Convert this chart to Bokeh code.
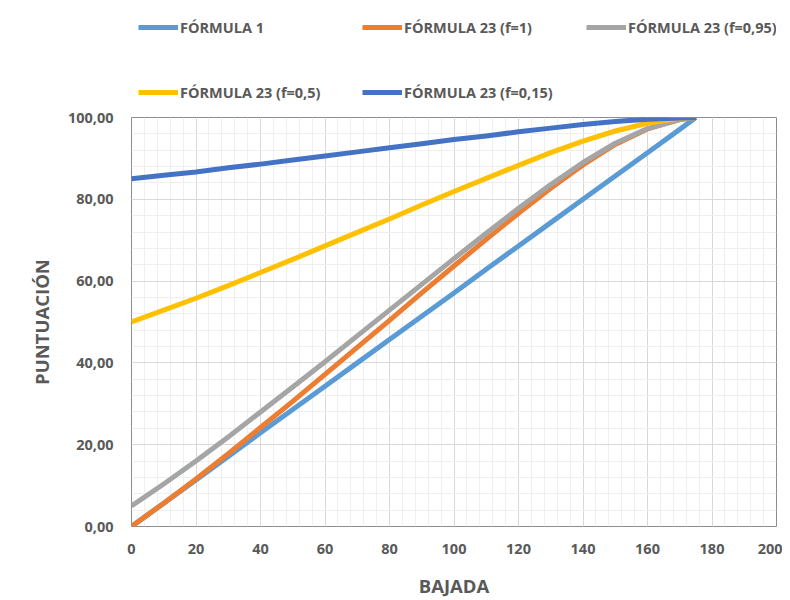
from bokeh.plotting import figure
from bokeh.layouts import column
from bokeh.models import Legend, LegendItem, ColumnDataSource, FixedTicker
from bokeh.embed import file_html
from bokeh.resources import INLINE

# ---- data ----
bajada = [0, 10, 20, 30, 40, 50, 60, 70, 80, 90, 100, 110, 120, 130, 140, 150, 160, 170, 175]
formula_1 = [0.0, 5.7, 11.4, 17.1, 22.9, 28.6, 34.3, 40.0, 45.7, 51.4, 57.1, 62.9, 68.6, 74.3, 80.0, 85.7, 91.4, 97.1, 100.0]
f23_f1 = [0.0, 5.7, 11.6, 17.8, 24.2, 30.6, 37.2, 43.8, 50.4, 57.1, 63.7, 70.2, 76.6, 82.7, 88.4, 93.4, 97.2, 99.5, 100.0]
f23_f095 = [5.0, 10.4, 16.0, 21.9, 28.0, 34.1, 40.3, 46.6, 52.9, 59.2, 65.5, 71.7, 77.8, 83.6, 89.0, 93.7, 97.3, 99.5, 100.0]
f23_f05 = [50.0, 52.9, 55.8, 58.9, 62.1, 65.3, 68.6, 71.9, 75.2, 78.6, 81.9, 85.1, 88.3, 91.4, 94.2, 96.7, 98.6, 99.8, 100.0]
f23_f015 = [85.0, 85.9, 86.7, 87.7, 88.6, 89.6, 90.6, 91.6, 92.6, 93.6, 94.6, 95.5, 96.5, 97.4, 98.3, 99.0, 99.6, 99.9, 100.0]

series_names = ["FÓRMULA 1", "FÓRMULA 23 (f=1)", "FÓRMULA 23 (f=0,95)",
                "FÓRMULA 23 (f=0,5)", "FÓRMULA 23 (f=0,15)"]
series_values = [formula_1, f23_f1, f23_f095, f23_f05, f23_f015]
series_colors = ["#5B9BD5", "#ED7D31", "#A5A5A5", "#FFC000", "#4472C4"]

x_ticks = [0, 20, 40, 60, 80, 100, 120, 140, 160, 180, 200]
y_ticks = [0, 20, 40, 60, 80, 100]
y_tick_labels = ["0,00", "20,00", "40,00", "60,00", "80,00", "100,00"]

TEXT = "#595959"
FONT = "Open Sans"
LINE_W = 5

src = ColumnDataSource(dict(x=bajada, **{f"s{i}": v for i, v in enumerate(series_values)}))

# ---- main chart ----
p = figure(width=782, height=493, output_backend="svg", toolbar_location=None,
           x_range=(0, 200), y_range=(0, 100),
           min_border_left=131, min_border_right=6, min_border_top=10, min_border_bottom=74)

for i, col in enumerate(series_colors):
    p.line("x", f"s{i}", source=src, line_color=col, line_width=LINE_W, line_join="round")

p.outline_line_color = "#8C8C8C"
p.outline_line_width = 1

p.xaxis.ticker = FixedTicker(ticks=x_ticks, minor_ticks=list(range(0, 201, 4)))
p.yaxis.ticker = FixedTicker(ticks=y_ticks, minor_ticks=list(range(0, 101, 4)))
p.xgrid.ticker = p.xaxis[0].ticker
p.ygrid.ticker = p.yaxis[0].ticker
p.yaxis.major_label_overrides = {t: l for t, l in zip(y_ticks, y_tick_labels)}

for ax in (p.xaxis[0], p.yaxis[0]):
    ax.axis_line_color = None
    ax.major_tick_line_color = None
    ax.minor_tick_line_color = None
    ax.major_label_text_font = FONT
    ax.major_label_text_font_size = "14.5px"
    ax.major_label_text_color = TEXT
    ax.major_label_text_font_style = "bold"
    ax.axis_label_text_font = FONT
    ax.axis_label_text_font_size = "18.5px"
    ax.axis_label_text_color = TEXT
    ax.axis_label_text_font_style = "bold"

p.xaxis.axis_label = "BAJADA"
p.yaxis.axis_label = "PUNTUACIÓN"
p.xaxis.major_label_standoff = 11
p.yaxis.major_label_standoff = 12
p.xaxis.axis_label_standoff = 16
p.yaxis.axis_label_standoff = 11

p.grid.grid_line_color = "#D9D9D9"
p.grid.grid_line_width = 1
p.grid.minor_grid_line_color = "#EFEFEF"
p.grid.minor_grid_line_width = 1

# ---- legend strip above the chart (its lines are kept out of view) ----
lg = figure(width=782, height=107, output_backend="svg", toolbar_location=None,
            x_range=(1000, 1001), y_range=(1000, 1001),
            min_border_left=0, min_border_right=0, min_border_top=0, min_border_bottom=0)
lg.axis.visible = False
lg.grid.visible = False
lg.outline_line_color = None

items = []
for i, (name, col) in enumerate(zip(series_names, series_colors)):
    r = lg.line("x", f"s{i}", source=src, line_color=col, line_width=LINE_W)
    items.append(LegendItem(label=name, renderers=[r]))

rows = [(items[:3], 70), (items[3:], 5)]
for row_items, vy in rows:
    leg = Legend(items=row_items, location=(7, vy), orientation="horizontal",
                 glyph_width=40, glyph_height=20, label_height=20, label_width=153,
                 label_standoff=2, spacing=29, padding=0, margin=0,
                 label_text_font=FONT, label_text_font_size="14.5px", label_text_color=TEXT,
                 label_text_font_style="bold",
                 border_line_color=None, background_fill_alpha=0)
    lg.add_layout(leg, "center")

layout = column(lg, p, spacing=0)
open("out.html", "w").write(file_html(layout, INLINE))
